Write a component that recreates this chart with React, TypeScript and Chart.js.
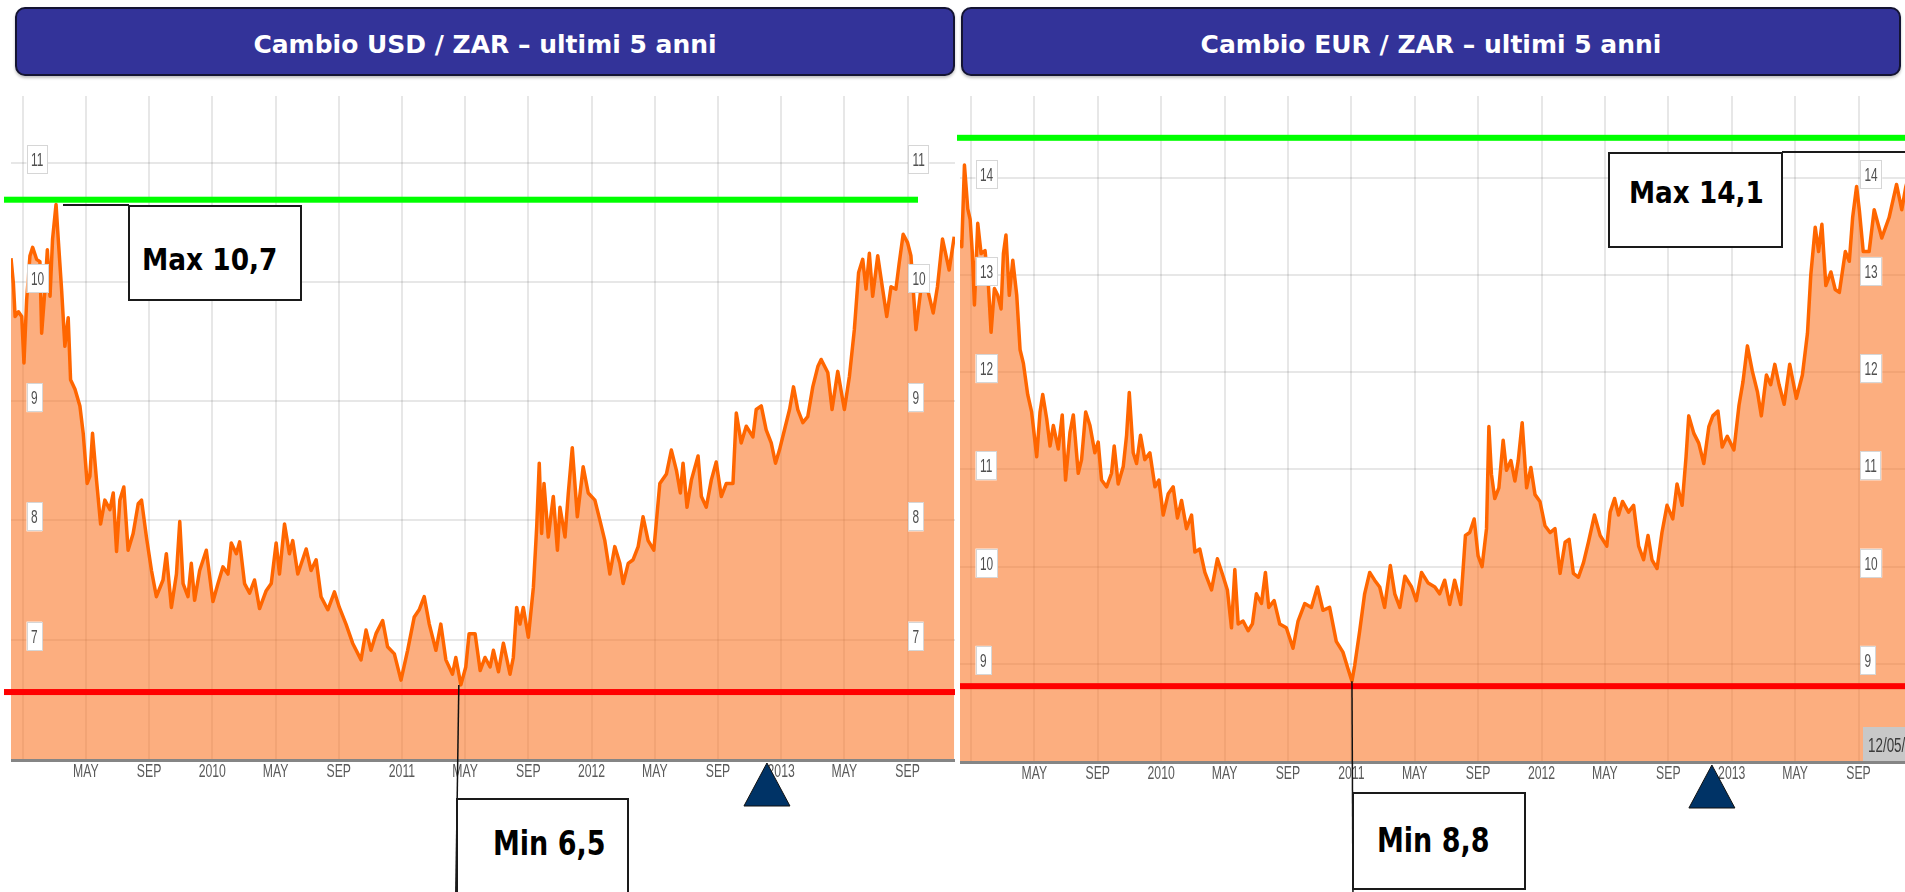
import React, { useEffect, useRef } from "react";
import { Chart, registerables } from "chart.js";

Chart.register(...registerables);

// ---------- DATA ----------
// x = months since January 2009
const usdMonths = [
  -0.74, -0.59, -0.48, -0.27, -0.06, 0.08, 0.25, 0.46, 0.63, 0.88, 1.09, 1.2, 1.41, 1.56, 1.73, 1.89, 2.11, 2.25,
  2.46, 2.67, 2.88, 3.03, 3.31, 3.62, 3.83, 4.08, 4.25, 4.42, 4.67, 4.93, 5.2, 5.52, 5.73, 5.94, 6.15, 6.4, 6.67,
  6.99, 7.31, 7.52, 7.83, 8.15, 8.46, 8.88, 9.09, 9.41, 9.73, 9.94, 10.15, 10.46, 10.67, 10.88, 11.2, 11.62, 12.04,
  12.36, 12.67, 12.99, 13.2, 13.52, 13.73, 14.04, 14.36, 14.67, 14.99, 15.41, 15.73, 16.04, 16.25, 16.57, 16.88,
  17.09, 17.41, 17.94, 18.25, 18.57, 18.88, 19.31, 19.73, 20.04, 20.46, 20.88, 21.41, 21.73, 22.04, 22.36, 22.78,
  23.09, 23.52, 23.94, 24.36, 24.78, 25.09, 25.41, 25.73, 26.15, 26.46, 26.78, 27.2, 27.41, 27.73, 28.04, 28.25,
  28.63, 28.95, 29.26, 29.58, 29.79, 30.11, 30.42, 30.84, 31.05, 31.26, 31.47, 31.68, 32.0, 32.32, 32.53, 32.69,
  32.84, 32.99, 33.26, 33.58, 33.84, 34.0, 34.32, 34.53, 34.78, 35.1, 35.47, 35.79, 36.21, 36.53, 36.84, 37.16,
  37.47, 37.79, 38.0, 38.32, 38.63, 38.95, 39.26, 39.58, 39.94, 40.32, 40.74, 41.05, 41.37, 41.62, 41.79, 42.04,
  42.32, 42.74, 42.95, 43.26, 43.58, 43.89, 44.21, 44.53, 44.95, 45.16, 45.47, 45.79, 46.21, 46.42, 46.74, 47.05,
  47.37, 47.64, 47.89, 48.21, 48.53, 48.78, 49.05, 49.37, 49.68, 50.0, 50.32, 50.53, 50.95, 51.22, 51.58, 52.0,
  52.32, 52.63, 52.9, 53.16, 53.37, 53.58, 53.79, 54.11, 54.42, 54.68, 54.95, 55.26, 55.47, 55.72, 56.0, 56.21,
  56.53, 56.84, 57.26, 57.62, 57.89, 58.21, 58.63, 58.95,
];
const usdRates = [
  10.2, 9.99, 9.71, 9.75, 9.71, 9.32, 9.85, 10.22, 10.29, 10.19, 10.17, 9.57, 9.94, 10.27, 9.88, 10.36, 10.65, 10.36,
  9.94, 9.46, 9.7, 9.18, 9.1, 8.96, 8.73, 8.31, 8.37, 8.73, 8.34, 7.97, 8.17, 8.09, 8.23, 7.74, 8.17, 8.28, 7.75,
  7.89, 8.14, 8.17, 7.86, 7.58, 7.36, 7.5, 7.72, 7.27, 7.55, 7.99, 7.47, 7.36, 7.64, 7.33, 7.58, 7.75, 7.32,
  7.47, 7.61, 7.55, 7.81, 7.72, 7.82, 7.47, 7.39, 7.5, 7.26, 7.41, 7.47, 7.81, 7.55, 7.97, 7.72,
  7.83, 7.55, 7.76, 7.58, 7.67, 7.36, 7.25, 7.4, 7.27, 7.13, 6.97, 6.83, 7.08, 6.91, 7.05, 7.16,
  6.94, 6.88, 6.66, 6.91, 7.19, 7.25, 7.36, 7.13, 6.91, 7.13, 6.83, 6.71, 6.85, 6.62, 6.77, 7.05,
  7.05, 6.74, 6.85, 6.77, 6.91, 6.73, 6.97, 6.71, 6.85, 7.27, 7.13, 7.27, 7.02, 7.44, 7.95, 8.48,
  7.89, 8.31, 7.86, 8.2, 7.75, 8.11, 7.86, 8.23, 8.61, 8.03, 8.45, 8.23, 8.17, 8.0, 7.83, 7.55,
  7.78, 7.64, 7.47, 7.64, 7.67, 7.78, 8.03, 7.83, 7.75, 8.31, 8.39, 8.59, 8.42, 8.23, 8.48, 8.11,
  8.34, 8.54, 8.2, 8.11, 8.34, 8.49, 8.2, 8.31, 8.31, 8.9, 8.65, 8.79, 8.7, 8.93, 8.96, 8.76,
  8.65, 8.48, 8.59, 8.76, 8.93, 9.12, 8.93, 8.82, 8.87, 9.12, 9.29, 9.35, 9.24, 8.93, 9.25, 8.93,
  9.21, 9.6, 10.08, 10.19, 9.94, 10.24, 9.88, 10.22, 9.94, 9.71, 9.96, 9.94, 10.16, 10.4, 10.33, 10.22,
  9.6, 9.94, 9.94, 9.74, 9.96, 10.36, 10.1, 10.38,
];

const eurMonths = [
  -0.69, -0.58, -0.41, -0.2, -0.05, 0.09, 0.22, 0.43, 0.64, 0.89, 1.1, 1.27, 1.48, 1.69, 1.9, 2.05, 2.21, 2.42, 2.64,
  2.89, 3.1, 3.31, 3.58, 3.83, 4.15, 4.36, 4.53, 4.78, 4.99, 5.2, 5.51, 5.76, 5.97, 6.25, 6.46, 6.77, 6.98, 7.24,
  7.51, 7.82, 8.03, 8.24, 8.56, 8.87, 9.04, 9.29, 9.61, 9.82, 9.99, 10.24, 10.45, 10.7, 10.97, 11.29, 11.61, 11.86,
  12.13, 12.45, 12.76, 13.03, 13.29, 13.6, 13.92, 14.13, 14.44, 14.76, 15.18, 15.55, 15.91, 16.18, 16.44, 16.65,
  16.86, 17.17, 17.49, 17.76, 18.01, 18.33, 18.58, 18.79, 19.13, 19.48, 19.9, 20.32, 20.64, 21.06, 21.48, 21.86,
  22.21, 22.63, 23.05, 23.47, 23.79, 24.04, 24.21, 24.53, 24.84, 25.16, 25.47, 25.79, 26.1, 26.46, 26.74, 27.06,
  27.38, 27.8, 28.1, 28.43, 28.85, 29.27, 29.57, 29.89, 30.21, 30.52, 30.9, 31.2, 31.47, 31.75, 32.0, 32.25, 32.53,
  32.68, 32.84, 33.05, 33.31, 33.58, 33.79, 34.07, 34.32, 34.53, 34.78, 35.06, 35.33, 35.59, 35.9, 36.22, 36.54,
  36.85, 37.17, 37.49, 37.74, 38.01, 38.33, 38.65, 38.96, 39.34, 39.7, 40.12, 40.33, 40.61, 40.86, 41.11, 41.49,
  41.81, 42.13, 42.44, 42.72, 42.97, 43.29, 43.6, 43.92, 44.28, 44.55, 44.87, 45.12, 45.29, 45.61, 45.92, 46.24,
  46.56, 46.81, 47.13, 47.4, 47.72, 48.14, 48.46, 48.71, 48.99, 49.3, 49.62, 49.87, 50.19, 50.46, 50.72, 50.99,
  51.31, 51.66, 52.08, 52.46, 52.78, 52.99, 53.27, 53.48, 53.69, 53.94, 54.26, 54.53, 54.79, 55.17, 55.42, 55.63,
  55.88, 56.05, 56.3, 56.67, 56.99, 57.47, 57.93, 58.4, 58.73, 58.99, 59.06,
];
const eurRates = [
  13.36, 13.29, 14.13, 13.68, 13.57, 13.22, 12.69, 13.53, 13.22, 13.25, 12.9, 12.41, 12.86, 12.79, 12.65, 13.22,
  13.41, 12.79, 13.15, 12.79, 12.23, 12.09, 11.77, 11.59, 11.13, 11.59, 11.77, 11.52, 11.24, 11.45, 11.21, 11.56,
  10.89, 11.38, 11.56, 10.96, 11.1, 11.59, 11.45, 11.17, 11.28, 10.89, 10.82, 10.96, 11.24, 10.85, 11.03, 11.35,
  11.79, 11.17, 11.06, 11.35, 11.1, 11.17, 10.82, 10.89, 10.53, 10.75, 10.82, 10.5, 10.68, 10.39, 10.53, 10.15,
  10.18, 9.94, 9.76, 10.08, 9.9, 9.76, 9.37, 9.97, 9.41, 9.44, 9.34, 9.41, 9.72, 9.62, 9.94, 9.58, 9.65, 9.41,
  9.37, 9.16, 9.44, 9.62, 9.58, 9.79, 9.55, 9.58, 9.23, 9.12, 8.95, 8.82, 8.98, 9.34, 9.72, 9.94, 9.86, 9.79,
  9.58, 10.01, 9.72, 9.58, 9.9, 9.79, 9.65, 9.94, 9.83, 9.79, 9.72, 9.86, 9.61, 9.86, 9.61, 10.32, 10.35, 10.49,
  10.11, 10.0, 10.39, 11.44, 10.95, 10.7, 10.81, 11.3, 10.99, 11.09, 10.88, 11.09, 11.48, 10.81, 11.02, 10.74,
  10.67, 10.42, 10.35, 10.39, 9.93, 10.25, 10.28, 9.93, 9.89, 10.04, 10.25, 10.53, 10.32, 10.21, 10.56, 10.7,
  10.53, 10.67, 10.56, 10.63, 10.21, 10.07, 10.32, 10.07, 9.98, 10.35, 10.63, 10.49, 10.85, 10.63, 11.13, 11.55,
  11.37, 11.27, 11.06, 11.44, 11.55, 11.6, 11.23, 11.34, 11.2, 11.66, 11.9, 12.27, 12.01, 11.8, 11.55, 11.97,
  11.87, 12.08, 11.87, 11.67, 12.08, 11.73, 11.97, 12.4, 13.0, 13.49, 13.24, 13.52, 12.89, 13.03, 12.85, 12.82,
  13.24, 13.14, 13.59, 13.91, 13.67, 13.24, 13.24, 13.67, 13.38, 13.59, 13.93, 13.67, 13.91, 13.95,
];

const xTickMonths = [0, 4, 8, 12, 16, 20, 24, 28, 32, 36, 40, 44, 48, 52, 56];
const xTickLabels = ["", "MAY", "SEP", "2010", "MAY", "SEP", "2011", "MAY", "SEP", "2012", "MAY", "SEP", "2013", "MAY", "SEP"];
const usdYTicks = [7, 8, 9, 10, 11];
const eurYTicks = [9, 10, 11, 12, 13, 14];

const usdMaxLevel = 10.69;
const usdMinLevel = 6.56;
const eurMaxLevel = 14.41;
const eurMinLevel = 8.77;
const usdMinPoint = { month: 27.6, rate: 6.62 };
const eurMinPoint = { month: 24.04, rate: 8.82 };
const usdMarkerMonth = 47.1;
const eurMarkerMonth = 46.75;

const usdTitle = "Cambio USD / ZAR \u2013 ultimi 5 anni";
const eurTitle = "Cambio EUR / ZAR \u2013 ultimi 5 anni";
const usdMaxLabel = "Max 10,7";
const usdMinLabel = "Min 6,5";
const eurMaxLabel = "Max 14,1";
const eurMinLabel = "Min 8,8";
const eurDateTag = "12/05/13";

// ---------- PLUGIN ----------
const overlayPlugin = {
  id: "overlay",
  afterDatasetsDraw(chart: any, _args: any, o: any) {
    const { ctx, chartArea: a, scales } = chart;
    const xs = scales.x;
    const ys = scales.y;
    ctx.save();

    // reference lines
    const gy = ys.getPixelForValue(o.maxLevel);
    ctx.fillStyle = "#00ff00";
    ctx.fillRect(a.left + o.greenFrom, gy - 3, a.right + o.greenTo - (a.left + o.greenFrom), 6);
    const ry = ys.getPixelForValue(o.minLevel);
    ctx.fillStyle = "#ff0000";
    ctx.fillRect(a.left + o.redFrom, ry - 3, a.right - (a.left + o.redFrom), 6);

    // date tag
    if (o.dateTag) {
      ctx.fillStyle = "#c8c8c8";
      ctx.fillRect(a.right - 44, a.bottom - 35, 44, 35);
      ctx.fillStyle = "#3a3a3a";
      ctx.font = "20px 'Liberation Sans', Arial, sans-serif";
      ctx.textAlign = "left";
      ctx.textBaseline = "alphabetic";
      ctx.save();
      ctx.translate(a.right - 39, a.bottom - 10);
      ctx.scale(0.67, 1);
      ctx.fillText(o.dateTag, 0, 0);
      ctx.restore();
    }

    // bottom axis line
    ctx.fillStyle = "#858585";
    ctx.fillRect(a.left, a.bottom - 1, a.right - a.left, 3);

    // x labels
    ctx.fillStyle = "#5a5a5a";
    ctx.font = "18px 'Liberation Sans', Arial, sans-serif";
    ctx.textAlign = "center";
    ctx.textBaseline = "alphabetic";
    xTickMonths.forEach((m, i) => {
      const lab = xTickLabels[i];
      if (!lab) return;
      const x = xs.getPixelForValue(m);
      if (x < a.left || x > a.right) return;
      ctx.save();
      ctx.translate(x, a.bottom + 17);
      ctx.scale(0.68, 1);
      ctx.fillText(lab, 0, 0);
      ctx.restore();
    });

    // y label boxes
    ctx.textAlign = "left";
    for (const v of o.yTicks) {
      const y = ys.getPixelForValue(v);
      const label = String(v);
      const tw = ctx.measureText(label).width * 0.66;
      for (const bx of [a.left + 15.5, a.right - 47]) {
        const w = tw + 9;
        const h = 29;
        const cy = y - 3.5;
        const top = cy - h / 2;
        ctx.fillStyle = "#ffffff";
        ctx.fillRect(bx, top, w, h);
        ctx.strokeStyle = "#d6d6d6";
        ctx.lineWidth = 1;
        ctx.strokeRect(Math.round(bx) + 0.5, Math.round(top) + 0.5, Math.round(w) - 1, h - 1);
        ctx.fillStyle = "#505050";
        ctx.save();
        ctx.translate(bx + 4.5, cy + 6.5);
        ctx.scale(0.66, 1);
        ctx.fillText(label, 0, 0);
        ctx.restore();
      }
    }

    // min connector line
    const mx = xs.getPixelForValue(o.minPoint.month);
    const my = ys.getPixelForValue(o.minPoint.rate);
    ctx.strokeStyle = "#111";
    ctx.lineWidth = 1.5;
    ctx.beginPath();
    ctx.moveTo(mx, my);
    ctx.lineTo(mx + o.minLineDx, chart.height);
    ctx.stroke();

    // marker triangle
    const tx = xs.getPixelForValue(o.markerMonth);
    ctx.beginPath();
    ctx.moveTo(tx, a.bottom + 3);
    ctx.lineTo(tx + 23, a.bottom + 46);
    ctx.lineTo(tx - 23, a.bottom + 46);
    ctx.closePath();
    ctx.fillStyle = "#003366";
    ctx.fill();
    ctx.strokeStyle = "#111";
    ctx.lineWidth = 1;
    ctx.stroke();

    ctx.restore();
  },
};

function makeConfig(
  months: number[],
  rates: number[],
  xMin: number,
  xMax: number,
  yMin: number,
  yMax: number,
  yTicks: number[],
  padding: any,
  overlay: any
) {
  const grid = { color: "rgba(0,0,0,0.095)", lineWidth: 2, drawTicks: false };
  return {
    type: "line",
    data: {
      datasets: [
        {
          data: months.map((m, i) => ({ x: m, y: rates[i] })),
          borderColor: "#ff6600",
          borderWidth: 3.5,
          pointRadius: 0,
          tension: 0,
          fill: "start",
          backgroundColor: "rgba(250,112,30,0.57)",
          borderJoinStyle: "round",
        },
      ],
    },
    options: {
      responsive: false,
      animation: false,
      events: [],
      layout: { padding },
      plugins: { legend: { display: false }, tooltip: { enabled: false }, overlay },
      scales: {
        x: {
          type: "linear",
          min: xMin,
          max: xMax,
          afterBuildTicks: (s: any) => {
            s.ticks = xTickMonths.map((v) => ({ value: v }));
          },
          ticks: { display: false },
          grid,
          border: { display: false },
        },
        y: {
          type: "linear",
          min: yMin,
          max: yMax,
          afterBuildTicks: (s: any) => {
            s.ticks = yTicks.map((v) => ({ value: v }));
          },
          ticks: { display: false },
          grid,
          border: { display: false },
        },
      },
    },
    plugins: [overlayPlugin],
  };
}

function ChartCanvas({ config, left, top, width, height }: any) {
  const ref = useRef<HTMLCanvasElement>(null);
  useEffect(() => {
    const chart = new Chart(ref.current as HTMLCanvasElement, config() as any);
    return () => chart.destroy();
  }, []);
  return (
    <canvas
      ref={ref}
      width={width}
      height={height}
      style={{ position: "absolute", left, top, width, height }}
    />
  );
}

function Header({ left, text }: { left: number; text: string }) {
  return (
    <div
      style={{
        position: "absolute",
        left,
        top: 7,
        width: 940,
        height: 69,
        boxSizing: "border-box",
        background: "#333399",
        border: "2px solid #141433",
        borderRadius: 10,
        boxShadow: "0 2px 3px rgba(0,0,0,0.25)",
      }}
    >
      <div
        style={{
          position: "absolute",
          left: 0,
          right: 0,
          top: 23,
          textAlign: "center",
          color: "#fff",
          fontFamily: "'DejaVu Sans', Verdana, sans-serif",
          fontWeight: "bold",
          fontSize: 25,
          lineHeight: "25px",
          whiteSpace: "nowrap",
        }}
      >
        {text}
      </div>
    </div>
  );
}

function Box({ left, top, width, height, text, tLeft, tTop, size, sx }: any) {
  return (
    <div
      style={{
        position: "absolute",
        left,
        top,
        width,
        height,
        boxSizing: "border-box",
        border: "2px solid #1a1a1a",
        background: "#fff",
      }}
    >
      <div
        style={{
          position: "absolute",
          left: tLeft,
          top: tTop,
          fontFamily: "'DejaVu Sans', Verdana, sans-serif",
          fontWeight: "bold",
          fontSize: size,
          lineHeight: `${size}px`,
          color: "#000",
          whiteSpace: "nowrap",
          transform: `scaleX(${sx})`,
          transformOrigin: "left top",
        }}
      >
        {text}
      </div>
    </div>
  );
}

export default function App() {
  const usdConfig = () =>
    makeConfig(usdMonths, usdRates, -0.74, 59.0, 5.99, 11.56, usdYTicks, { left: 11, top: 0, right: 0, bottom: 132 }, {
      yTicks: usdYTicks,
      maxLevel: usdMaxLevel,
      minLevel: usdMinLevel,
      greenFrom: -7,
      greenTo: -37,
      redFrom: -7,
      minPoint: usdMinPoint,
      minLineDx: -3,
      markerMonth: usdMarkerMonth,
      dateTag: null,
    });
  const eurConfig = () =>
    makeConfig(eurMonths, eurRates, -0.69, 59.06, 7.99, 14.84, eurYTicks, { left: 4, top: 0, right: 0, bottom: 130 }, {
      yTicks: eurYTicks,
      maxLevel: eurMaxLevel,
      minLevel: eurMinLevel,
      greenFrom: -3,
      greenTo: 0,
      redFrom: 0,
      minPoint: eurMinPoint,
      minLineDx: 1,
      markerMonth: eurMarkerMonth,
      dateTag: eurDateTag,
    });

  return (
    <div
      style={{
        position: "absolute",
        left: 0,
        top: 0,
        width: 1905,
        height: 892,
        overflow: "hidden",
        background: "#fff",
      }}
    >
      <ChartCanvas config={usdConfig} left={0} top={96} width={955} height={796} />
      <ChartCanvas config={eurConfig} left={956} top={96} width={951} height={796} />

      <Header left={15} text={usdTitle} />
      <Header left={961} text={eurTitle} />

      {/* USD annotations */}
      <div style={{ position: "absolute", left: 63, top: 204, width: 66, height: 2, background: "#1a1a1a" }} />
      <Box left={128} top={205} width={174} height={96} text={usdMaxLabel} tLeft={12} tTop={38} size={30} sx={0.88} />
      <Box left={456} top={798} width={173} height={120} text={usdMinLabel} tLeft={35} tTop={26} size={34} sx={0.794} />

      {/* EUR annotations */}
      <div style={{ position: "absolute", left: 1782, top: 151, width: 130, height: 2, background: "#1a1a1a" }} />
      <Box left={1608} top={152} width={175} height={96} text={eurMaxLabel} tLeft={19} tTop={24} size={30} sx={0.875} />
      <Box left={1352} top={792} width={174} height={98} text={eurMinLabel} tLeft={23} tTop={29} size={34} sx={0.794} />
    </div>
  );
}
